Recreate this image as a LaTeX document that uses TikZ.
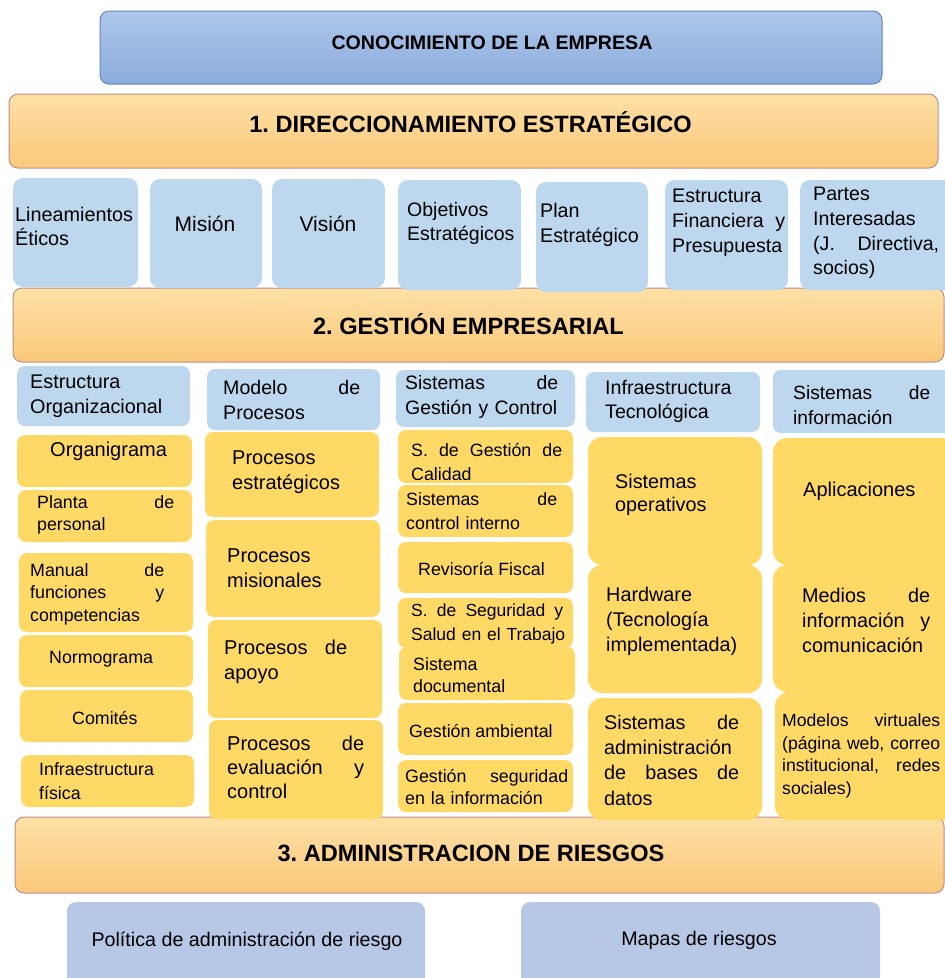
\documentclass[tikz,border=0pt]{standalone}
\usepackage{fontspec}
\setmainfont{Liberation Sans}
\usetikzlibrary{fit}
\definecolor{topA}{RGB}{174,199,234}
\definecolor{topB}{RGB}{139,172,220}
\definecolor{topE}{RGB}{100,132,190}
\definecolor{bandA}{RGB}{254,224,166}
\definecolor{bandB}{RGB}{250,200,122}
\definecolor{bandE}{RGB}{185,145,140}
\definecolor{lblue}{RGB}{189,215,238}
\definecolor{yel}{RGB}{255,217,102}
\definecolor{bblue}{RGB}{182,200,230}
\newcommand\fs[2]{\fontsize{#1}{#2}\selectfont}
\newcommand\bx[4]{\node[#2, fit={#3 #4}, inner sep=0pt] (#1) {};}
\frenchspacing
\hyphenpenalty=10000
\exhyphenpenalty=10000
\begin{document}
\begin{tikzpicture}[x=1pt,y=-1pt,
  topbox/.style={rounded corners=9pt, draw=topE, line width=1pt, top color=topA, bottom color=topB},
  band/.style={rounded corners=9pt, draw=bandE, line width=1pt, top color=bandA, bottom color=bandB},
  lbox/.style={rounded corners=10pt, fill=lblue},
  hbox/.style={rounded corners=8pt, fill=lblue},
  ybox/.style={rounded corners=8pt, fill=yel},
  bigy/.style={rounded corners=14pt, fill=yel},
  bbox/.style={rounded corners=9pt, fill=bblue},
  txt/.style={inner sep=0pt, align=left, anchor=west},
  ctr/.style={inner sep=0pt, align=center, anchor=center},
  ttl/.style={inner sep=0pt, anchor=center, font=\bfseries\fs{23.6}{28}},
]
\useasboundingbox (0,0) rectangle (945,978);
\clip (0,0) rectangle (945,978);

% ---------- top ----------
\bx{conoc}{topbox}{(100,11)}{(882,84)}
\node[inner sep=0pt, anchor=center, font=\bfseries\fs{19.6}{24}] (conoct) at (492,43) {CONOCIMIENTO DE LA EMPRESA};

\bx{dir}{band}{(9,94)}{(938,168)}
\node[ttl] (dirt) at (470.5,122) {1. DIRECCIONAMIENTO ESTRATÉGICO};

\bx{gest}{band}{(13,288)}{(944,362)}
\node[ttl] (gestt) at (468.5,324) {2. GESTIÓN EMPRESARIAL};

\bx{ries}{band}{(15,817)}{(944,893)}
\node[ttl] (riest) at (471,853) {3. ADMINISTRACION DE RIESGOS};

% ---------- row 1 ----------
\bx{lin}{lbox}{(13,178)}{(138,287)}
\node[txt, text width=122, font=\fs{19.8}{24}] (lint) at (15,226) {Lineamientos\\Éticos};
\bx{mis}{lbox}{(150,179)}{(262,288)}
\node[ctr, font=\fs{21}{25}] (mist) at (205,224) {Misión};
\bx{vis}{lbox}{(272,179)}{(385,288)}
\node[ctr, font=\fs{21}{25}] (vist) at (328,224) {Visión};
\bx{obj}{lbox}{(398,180)}{(521,290)}
\node[txt, text width=112, font=\fs{19.5}{24}] (objt) at (407,223) {Objetivos\\Estratégicos};
\bx{plan}{lbox}{(536,182)}{(648,292)}
\node[txt, text width=106, font=\fs{19.7}{24.5}] (plant) at (540,225) {Plan\\Estratégico};
\bx{fin}{lbox}{(665,180)}{(788,290)}
\node[txt, text width=113, font=\fs{19.6}{25}] (fint) at (672,223) {Estructura\\Financiera\hfill y\\Presupuesta};
\bx{par}{lbox}{(800,180)}{(960,290)}
\node[txt, text width=126, font=\fs{19.6}{24.7}] (part) at (813,233) {Partes\\Interesadas\\(J.\hfill Directiva,\\socios)};

% ---------- headers ----------
\bx{h1}{hbox}{(17,366)}{(190,426)}
\node[txt, text width=150, font=\fs{19.8}{25}] (h1t) at (30,396) {Estructura\\Organizacional};
\bx{h2}{hbox}{(207,369)}{(380,430)}
\node[txt, text width=137, font=\fs{19.6}{25}] (h2t) at (223,400) {Modelo\hfill de\\Procesos};
\bx{h3}{hbox}{(396,370)}{(575,427)}
\node[txt, text width=153, font=\fs{19.4}{25}] (h3t) at (405,397) {Sistemas\hfill de\\Gestión y Control};
\bx{h4}{hbox}{(586,372)}{(760,432)}
\node[txt, text width=150, font=\fs{19.6}{24}] (h4t) at (605,401) {Infraestructura\\Tecnológica};
\bx{h5}{hbox}{(773,370)}{(960,433)}
\node[txt, text width=137, font=\fs{19.2}{25}] (h5t) at (793,405) {Sistemas\hfill de\\información};

% ---------- column 1 ----------
\bx{c1a}{ybox}{(17,435)}{(192,487)}
\node[txt, font=\fs{20}{24}] (c1at) at (50,451) {Organigrama};
\bx{c1b}{ybox}{(18,490)}{(192,542)}
\node[txt, text width=137, font=\fs{17.8}{22}] (c1bt) at (37,515) {Planta\hfill de\\personal};
\bx{c1c}{ybox}{(19,553)}{(193,632)}
\node[txt, text width=134, font=\fs{17.8}{22.5}] (c1ct) at (30,594) {Manual\hfill de\\funciones\hfill y\\competencias};
\bx{c1d}{ybox}{(19,635)}{(193,687)}
\node[txt, font=\fs{17.8}{22}] (c1dt) at (49,659) {Normograma};
\bx{c1e}{ybox}{(20,690)}{(193,742)}
\node[txt, font=\fs{17.8}{22}] (c1et) at (72,718) {Comités};
\bx{c1f}{ybox}{(21,755)}{(194,807)}
\node[txt, text width=150, font=\fs{17.8}{24}] (c1ft) at (39,781) {Infraestructura\\física};

% ---------- column 2 ----------
\bx{c2a}{ybox}{(205,432)}{(379,517)}
\node[txt, text width=140, font=\fs{20}{25}] (c2at) at (232,472) {Procesos\\estratégicos};
\bx{c2b}{ybox}{(206,520)}{(380,617)}
\node[txt, text width=140, font=\fs{20}{25}] (c2bt) at (227,568) {Procesos\\misionales};
\bx{c2c}{ybox}{(208,620)}{(382,718)}
\node[txt, text width=123, font=\fs{20}{24.5}] (c2ct) at (224,662) {Procesos\hfill de\\apoyo};
\bx{c2d}{ybox}{(209,720)}{(383,819)}
\node[txt, text width=137, font=\fs{20}{24}] (c2dt) at (227,767) {Procesos\hfill de\\evaluación\hfill y\\control};

% ---------- column 3 ----------
\bx{c3a}{ybox}{(398,430)}{(573,483)}
\node[txt, text width=151, font=\fs{17.8}{24}] (c3at) at (411,462) {S.\hfill de\hfill Gestión\hfill de\\Calidad};
\bx{c3b}{ybox}{(398,485)}{(573,537)}
\node[txt, text width=151, font=\fs{17.8}{24}] (c3bt) at (406,511) {Sistemas\hfill de\\control interno};
\bx{c3c}{ybox}{(398,542)}{(573,593)}
\node[txt, font=\fs{17.8}{22}] (c3ct) at (418,569) {Revisoría Fiscal};
\bx{c3d}{ybox}{(398,598)}{(573,648)}
\node[txt, text width=152, font=\fs{17.5}{24}] (c3dt) at (411,624) {S.\hfill de\hfill Seguridad\hfill y\\\mbox{Salud en el Trabajo}};
\bx{c3e}{ybox}{(399,647)}{(575,700)}
\node[txt, text width=150, font=\fs{17.8}{22.5}] (c3et) at (413,675) {Sistema\\documental};
\bx{c3f}{ybox}{(398,703)}{(573,755)}
\node[txt, font=\fs{17.8}{22}] (c3ft) at (409,731) {Gestión ambiental};
\bx{c3g}{ybox}{(398,760)}{(573,812)}
\node[txt, text width=163, font=\fs{17.8}{21.5}] (c3gt) at (405,787) {Gestión\hfill seguridad\\en la información};

% ---------- column 4 ----------
\bx{c4a}{bigy}{(588,437)}{(762,565)}
\node[txt, text width=140, font=\fs{19.8}{23.5}] (c4at) at (615,495) {Sistemas\\operativos};
\bx{c4b}{bigy}{(588,565)}{(762,693)}
\node[txt, text width=150, font=\fs{19.8}{25}] (c4bt) at (606,621) {Hardware\\(Tecnología\\implementada)};
\bx{c4c}{bigy}{(588,698)}{(762,820)}
\node[txt, text width=135, font=\fs{19.8}{25.3}] (c4ct) at (604,760) {Sistemas\hfill de\\administración\\de\hfill bases\hfill de\\datos};

% ---------- column 5 ----------
\bx{c5a}{bigy}{(773,438)}{(960,565)}
\node[txt, font=\fs{20}{24}] (c5at) at (803,491) {Aplicaciones};
\bx{c5b}{bigy}{(773,565)}{(960,692)}
\node[txt, text width=128, font=\fs{19.8}{25}] (c5bt) at (802,620) {Medios\hfill de\\información\hfill y\\comunicación};
\bx{c5c}{bigy}{(775,692)}{(960,820)}
\node[txt, text width=158, font=\fs{17.6}{22.7}] (c5ct) at (782,756) {Modelos\hfill virtuales\\(página\hfill web,\hfill correo\\institucional,\hfill redes\\sociales)};

% ---------- bottom ----------
\bx{pol}{bbox}{(67,902)}{(425,995)}
\node[ctr, font=\fs{19.7}{24}] (polt) at (247,941) {Política de administración de riesgo};
\bx{map}{bbox}{(521,902)}{(880,995)}
\node[ctr, font=\fs{19.7}{24}] (mapt) at (699,940) {Mapas de riesgos};
\end{tikzpicture}
\end{document}
